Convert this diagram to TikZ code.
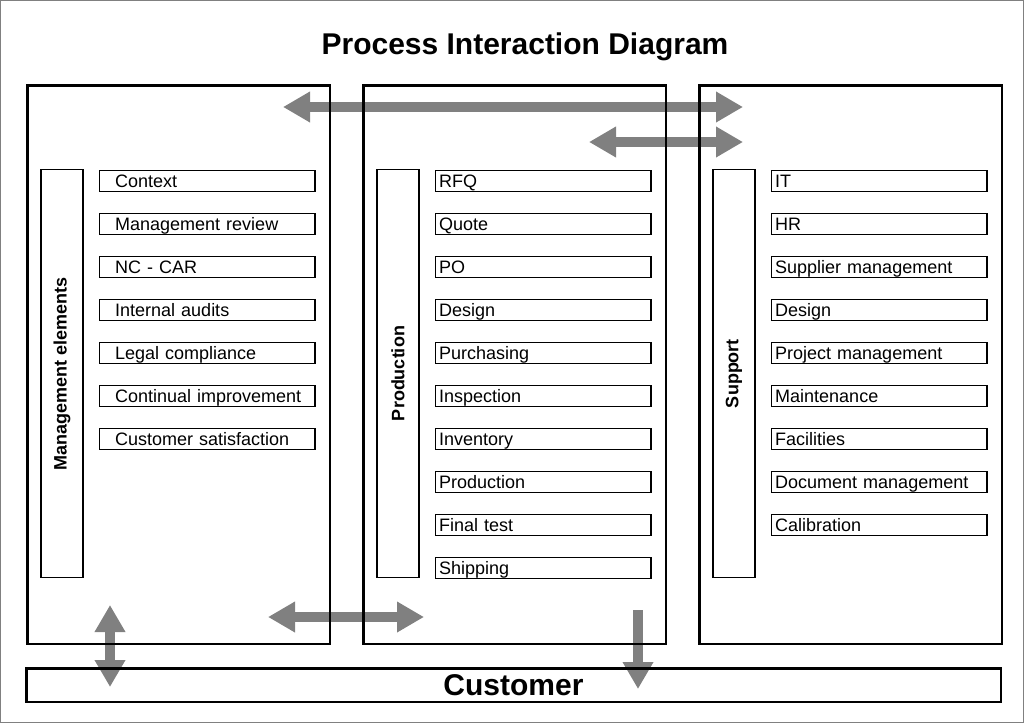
\documentclass[tikz,border=0pt]{standalone}
\usepackage{fontspec}
\setmainfont{Liberation Sans}
\usetikzlibrary{arrows.meta}
\usetikzlibrary{positioning}
\definecolor{arrowgray}{RGB}{128,128,128}

\begin{document}
\begin{tikzpicture}[x=1pt,y=-1pt,>={Triangle[length=27pt,width=29pt]},
	column/.style={draw,line width=2.5pt,minimum width=302.5pt,minimum height=558.5pt,anchor=north west},
	bar/.style={draw,line width=1.2pt,rotate=90,minimum width=408pt,minimum height=42pt,
		font=\bfseries\fontsize{18}{21}\selectfont},
	item/.style={draw,line width=1.2pt,anchor=north west,minimum height=21pt,inner xsep=4pt,
		text width=207.8pt,align=left,text height=13pt,text depth=0pt,font=\fontsize{18}{21}\selectfont},
	flow/.style={arrowgray,line width=9.5pt}]
	
	\useasboundingbox (0,0) rectangle (1024,723);
	\draw[gray,line width=1pt] (0.5,0.5) rectangle (1023.5,722.5);
	
	\node[font=\bfseries\fontsize{30}{36}\selectfont] (title) at (525,47) {Process Interaction Diagram};
	
	% arrows first, boxes on top
	\coordinate (t1) at (283,107);
	\coordinate (t2) at (743,107);
	\coordinate (u1) at (589,142);
	\coordinate (u2) at (743,142);
	\coordinate (b1) at (268,617);
	\coordinate (b2) at (424,617);
	\coordinate (c1) at (110,605);
	\coordinate (c2) at (110,687);
	\coordinate (d1) at (638,610);
	\coordinate (d2) at (638,689);
	\draw[flow,<->] (t1) -- (t2);
	\draw[flow,<->] (u1) -- (u2);
	\draw[flow,<->] (b1) -- (b2);
	\draw[flow,<->] (c1) -- (c2);
	\draw[flow,->] (d1) -- (d2);
	
	\node[column] (mgmt) at (26.25,84.25) {};
	\node[column] (prod) at (362.25,84.25) {};
	\node[column] (supp) at (698.25,84.25) {};
	
	\node[bar] (mbar) at (62,373.5) {Management elements};
	\node[bar] (pbar) at (398,373.5) {Production};
	\node[bar] (sbar) at (734,373.5) {Support};
	
	\foreach \txt [count=\i] in {Context,Management review,NC - CAR,Internal audits,
		Legal compliance,Continual improvement,Customer satisfaction}
	\node[item] (m\i) at (98.6,169.6+43*\i-43) {\hspace*{12pt}\txt};
	
	\foreach \txt [count=\i] in {RFQ,Quote,PO,Design,Purchasing,Inspection,Inventory,
		Production,Final test,Shipping}
	\node[item] (p\i) at (434.6,169.6+43*\i-43) {\txt};
	
	\foreach \txt [count=\i] in {IT,HR,Supplier management,Design,Project management,
		Maintenance,Facilities,Document management,Calibration}
	\node[item] (s\i) at (770.6,169.6+43*\i-43) {\txt};
	
	\node[draw,line width=2.5pt,minimum width=974.5pt,minimum height=33.5pt,
	font=\bfseries\fontsize{30}{36}\selectfont] (cust) at (513.5,685) {Customer};
\end{tikzpicture}
\end{document}
